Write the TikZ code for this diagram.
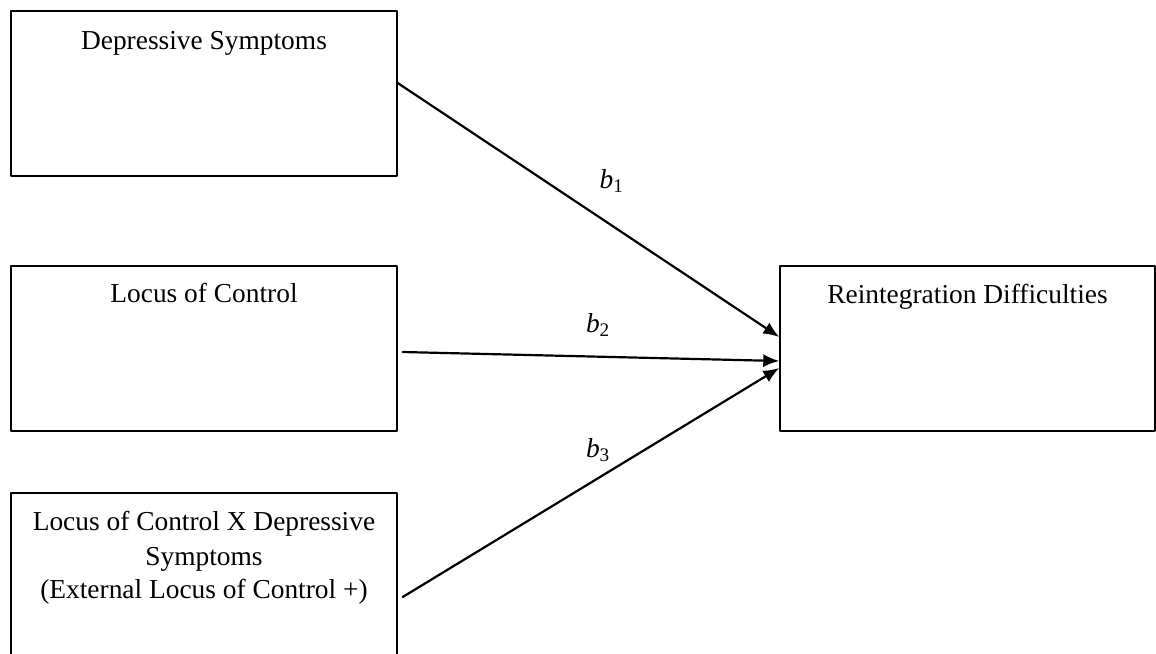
\documentclass[tikz,border=0pt]{standalone}
\usepackage{fontspec}
\setmainfont{Liberation Serif}
\usetikzlibrary{arrows.meta,calc}
\tikzset{
  box/.style={draw,line width=0.7pt,inner sep=0pt,minimum height=82.5pt},
  boxtext/.style={anchor=north,inner sep=0pt,yshift=-9pt,align=center,
    font=\fontsize{13.7}{17.5}\selectfont},
  path/.style={line width=1.1pt,-{Latex[length=8pt,width=6.5pt]}},
  coef/.style={inner sep=1pt,font=\fontsize{13.7}{16}\selectfont}
}
\begin{document}
\begin{tikzpicture}[x=0.5pt,y=-0.5pt,line cap=round,line join=round]
  \useasboundingbox (0,0) rectangle (1156,653);
  % predictors
  \node[box,minimum width=193pt,label={[boxtext,yshift=-1.5pt]north:{Depressive Symptoms}}] (dep) at (204,93.5) {};
  \node[box,minimum width=193pt,label={[boxtext]north:{Locus of Control}}] (loc) at (204,348.5) {};
  \node[box,minimum width=193pt,label={[boxtext]north:{Locus of Control X Depressive\\Symptoms\\[-1pt](External Locus of Control +)}}] (inter) at (204,575.5) {};
  % outcome
  \node[box,minimum width=187.5pt,label={[boxtext,yshift=-0.5pt]north:{Reintegration Difficulties}}] (reint) at (967.5,348.5) {};
  % paths
  \draw[path] ($(dep.east)+(0,-10.5)$) -- ($(reint.west)+(0,-11.5)$)
    node[coef,pos=0.561,yshift=22.3pt] (b1) {\textit{b}\textsubscript{1}};
  \draw[path] ($(loc.east)+(5,3.5)$) -- ($(reint.west)+(0,12.5)$)
    node[coef,pos=0.519,yshift=15.9pt] (b2) {\textit{b}\textsubscript{2}};
  \draw[path] ($(inter.east)+(5,21.5)$) -- ($(reint.west)+(0,19.5)$)
    node[coef,pos=0.519,yshift=14.1pt] (b3) {\textit{b}\textsubscript{3}};
\end{tikzpicture}
\end{document}
